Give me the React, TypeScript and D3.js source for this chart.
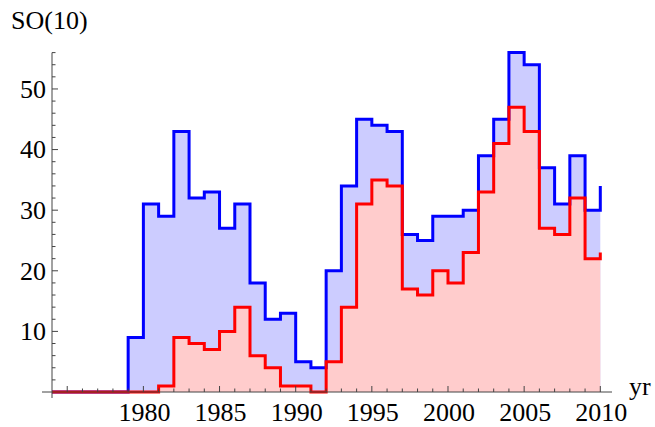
import React from "react";
import * as d3 from "d3";

// yearly counts, 1974..2010
const years = d3.range(1974, 2011);
const totalCounts = [
  0, 0, 0, 0, 0, 9, 31, 29, 43, 32, 33, 27, 31, 18, 12, 13, 5, 4,
  20, 34, 45, 44, 43, 26, 25, 29, 29, 30, 39, 45, 56, 54, 37, 31, 39, 30, 34,
];
const subsetCounts = [
  0, 0, 0, 0, 0, 0, 0, 1, 9, 8, 7, 10, 14, 6, 4, 1, 1, 0,
  5, 14, 31, 35, 34, 17, 16, 20, 18, 23, 33, 41, 47, 43, 27, 26, 32, 22, 23,
];
const xTickLabels = [1980, 1985, 1990, 1995, 2000, 2005, 2010];
const yTickLabels = [10, 20, 30, 40, 50];

const W = 655;
const H = 427;
const FONT = "Times New Roman";

export default function App() {
  const x = d3.scaleLinear().domain([1974, 2010]).range([52, 600.3]);
  const y = d3.scaleLinear().domain([0, 56]).range([392, 52.6]);

  const blue = years.map((yr, i) => ({ yr, v: totalCounts[i] }));
  const red = years.map((yr, i) => ({ yr, v: subsetCounts[i] }));

  const line = d3
    .line<{ yr: number; v: number }>()
    .x((d) => x(d.yr))
    .y((d) => y(d.v))
    .curve(d3.curveStepAfter);
  const area = d3
    .area<{ yr: number; v: number }>()
    .x((d) => x(d.yr))
    .y0(y(0))
    .y1((d) => y(d.v))
    .curve(d3.curveStepAfter);

  const axisColor = "#444";

  const xMinor = d3.range(1975, 2011).filter((v) => v % 5 !== 0);
  const xMajor = d3.range(1975, 2011, 5);
  const yMinor = d3.range(2, 57, 2).filter((v) => v % 10 !== 0);

  return (
    <svg width={W} height={H} style={{ position: "absolute", left: 0, top: 0 }}>
      <path d={area(blue) ?? ""} fill="#ccccff" />
      <path d={area(red) ?? ""} fill="#ffcccc" />
      <path d={line(blue) ?? ""} fill="none" stroke="#0000ff" strokeWidth={3} />
      <path d={line(red) ?? ""} fill="none" stroke="#ff0000" strokeWidth={3} />

      {/* x axis */}
      <line x1={42} x2={612} y1={y(0)} y2={y(0)} stroke={axisColor} strokeWidth={1} />
      {xMajor.map((v) => (
        <line key={"xM" + v} x1={x(v)} x2={x(v)} y1={y(0)} y2={y(0) - 6} stroke={axisColor} />
      ))}
      {xMinor.map((v) => (
        <line key={"xm" + v} x1={x(v)} x2={x(v)} y1={y(0)} y2={y(0) - 3.5} stroke={axisColor} />
      ))}
      <g style={{ fontFamily: `"${FONT}"`, fontSize: "26px" }}>
        {xTickLabels.map((v) => (
          <text key={"xl" + v} x={x(v) + 1} y={421} textAnchor="middle">
            {String(v)}
          </text>
        ))}
        <text x={629} y={395}>yr</text>
      </g>

      {/* y axis */}
      <line x1={x(1974)} x2={x(1974)} y1={398} y2={y(56)} stroke={axisColor} strokeWidth={1} />
      {yTickLabels.map((v) => (
        <line key={"yM" + v} x1={x(1974)} x2={x(1974) + 6} y1={y(v)} y2={y(v)} stroke={axisColor} />
      ))}
      {yMinor.map((v) => (
        <line key={"ym" + v} x1={x(1974)} x2={x(1974) + 3.5} y1={y(v)} y2={y(v)} stroke={axisColor} />
      ))}
      <g style={{ fontFamily: `"${FONT}"`, fontSize: "26px" }}>
        {yTickLabels.map((v) => (
          <text key={"yl" + v} x={46} y={y(v) + 8.8} textAnchor="end">
            {String(v)}
          </text>
        ))}
        <text x={11} y={29}>SO(10)</text>
      </g>
    </svg>
  );
}
